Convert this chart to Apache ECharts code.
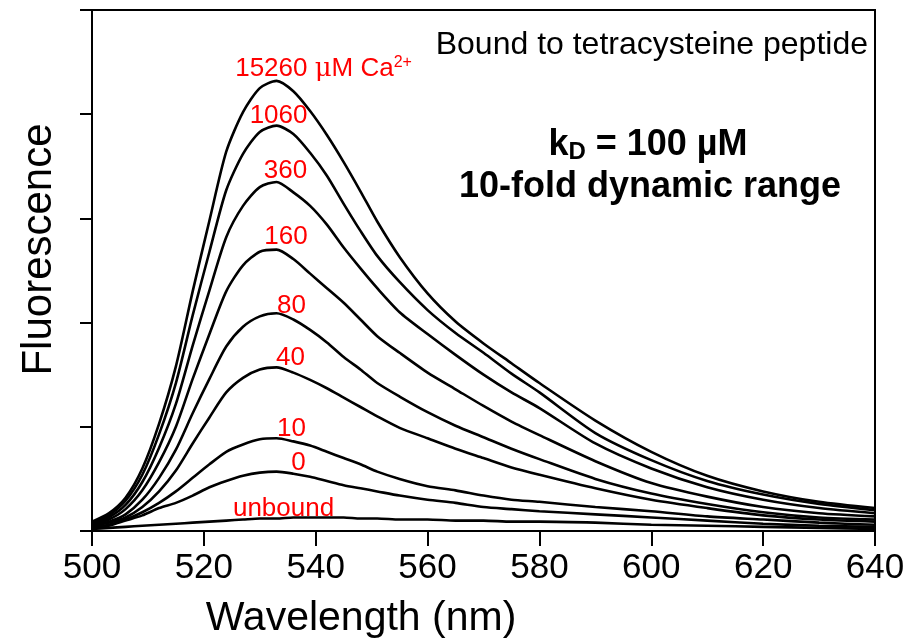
<!DOCTYPE html>
<html>
<head>
<meta charset="utf-8">
<script src="https://cdn.jsdelivr.net/npm/echarts@6/dist/echarts.min.js"></script>
<style>html,body{margin:0;padding:0;background:#fff;}#chart{width:923px;height:644px;}</style>
</head>
<body>
<div id="chart"></div>
<script>
// ---- data ----
const wavelengths = [500, 503, 506, 509, 512, 515, 518, 521, 524, 527, 530, 533, 536, 539, 542, 545, 548, 551, 555, 560, 565, 570, 575, 580, 590, 600, 610, 620, 630, 640];
const ca15260 = [0.09, 0.17, 0.32, 0.60, 1.03, 1.58, 2.30, 2.98, 3.64, 4.02, 4.25, 4.32, 4.22, 4.03, 3.80, 3.54, 3.26, 2.97, 2.63, 2.28, 2.01, 1.80, 1.61, 1.42, 1.06, 0.76, 0.53, 0.38, 0.28, 0.22];
const ca1060  = [0.08, 0.15, 0.29, 0.54, 0.93, 1.42, 2.07, 2.68, 3.27, 3.62, 3.83, 3.89, 3.81, 3.63, 3.41, 3.14, 2.88, 2.64, 2.39, 2.12, 1.90, 1.71, 1.51, 1.33, 0.94, 0.68, 0.48, 0.35, 0.26, 0.20];
const ca360   = [0.07, 0.13, 0.25, 0.47, 0.80, 1.22, 1.78, 2.31, 2.82, 3.12, 3.30, 3.35, 3.25, 3.12, 2.94, 2.72, 2.52, 2.33, 2.10, 1.89, 1.69, 1.50, 1.33, 1.18, 0.84, 0.60, 0.42, 0.30, 0.22, 0.17];
const ca160   = [0.06, 0.11, 0.21, 0.39, 0.66, 1.00, 1.46, 1.89, 2.30, 2.55, 2.68, 2.70, 2.61, 2.47, 2.33, 2.19, 2.03, 1.87, 1.71, 1.52, 1.36, 1.20, 1.05, 0.92, 0.67, 0.46, 0.33, 0.23, 0.17, 0.14];
const ca80    = [0.05, 0.09, 0.16, 0.30, 0.51, 0.78, 1.13, 1.46, 1.77, 1.96, 2.06, 2.09, 2.03, 1.93, 1.81, 1.67, 1.55, 1.42, 1.29, 1.14, 1.01, 0.90, 0.79, 0.69, 0.50, 0.36, 0.26, 0.18, 0.13, 0.11];
const ca40    = [0.05, 0.08, 0.13, 0.23, 0.38, 0.58, 0.84, 1.09, 1.33, 1.47, 1.55, 1.57, 1.52, 1.45, 1.37, 1.28, 1.19, 1.10, 0.99, 0.89, 0.79, 0.70, 0.61, 0.54, 0.41, 0.30, 0.22, 0.15, 0.11, 0.09];
const ca10    = [0.04, 0.06, 0.11, 0.18, 0.27, 0.38, 0.51, 0.64, 0.76, 0.83, 0.88, 0.89, 0.86, 0.82, 0.76, 0.70, 0.64, 0.57, 0.50, 0.43, 0.39, 0.34, 0.30, 0.28, 0.23, 0.19, 0.14, 0.11, 0.08, 0.06];
const ca0     = [0.03, 0.05, 0.10, 0.15, 0.22, 0.27, 0.34, 0.42, 0.48, 0.53, 0.56, 0.57, 0.55, 0.52, 0.48, 0.44, 0.41, 0.38, 0.34, 0.30, 0.27, 0.23, 0.21, 0.19, 0.16, 0.13, 0.10, 0.07, 0.05, 0.04];
const unbound = [0.02, 0.03, 0.04, 0.05, 0.06, 0.07, 0.08, 0.09, 0.10, 0.11, 0.12, 0.12, 0.13, 0.13, 0.13, 0.13, 0.12, 0.12, 0.11, 0.11, 0.10, 0.10, 0.09, 0.09, 0.08, 0.06, 0.05, 0.04, 0.03, 0.02];
const curveLabels = ['15260 {mu|\u03bc}M Ca{sup|2+}', '1060', '360', '160', '80', '40', '10', '0', 'unbound'];
const xTicks = [500, 520, 540, 560, 580, 600, 620, 640];

// ---- styling ----
const FONT = '"Liberation Sans", Arial, Helvetica, sans-serif';
const curves = [ca15260, ca1060, ca360, ca160, ca80, ca40, ca10, ca0, unbound];
const labelIndex = wavelengths.indexOf(533);
const labelOffsets = [[47, 2], [2, 3.5], [9, 2.3], [9.5, 0], [15, 6], [14, 3.5], [15, 3.6], [22, 4.3], [7, 3.3]];

const series = curves.map((vals, k) => ({
  type: 'line',
  name: curveLabels[k],
  data: wavelengths.map((w, i) => [w, vals[i]]),
  smooth: 0.25,
  symbol: 'none',
  lineStyle: { color: '#000', width: 2.6 },
  silent: true,
  z: 3,
  markPoint: {
    symbol: 'circle',
    symbolSize: 0,
    silent: true,
    data: [{
      coord: [wavelengths[labelIndex], vals[labelIndex]],
      label: {
        show: true,
        position: 'top',
        distance: 0,
        offset: labelOffsets[k],
        formatter: curveLabels[k],
        color: '#ff0000',
        fontSize: 26,
        fontFamily: FONT,
        rich: {
          mu: { color: '#ff0000', fontSize: 26, fontFamily: '"DejaVu Serif", serif' },
          sup: { color: '#ff0000', fontSize: 16, fontFamily: FONT, verticalAlign: 'top', padding: [0, 0, 12, 0] }
        }
      }
    }]
  }
}));

const chart = echarts.init(document.getElementById('chart'), null, { renderer: 'canvas' });
chart.setOption({
  animation: false,
  backgroundColor: '#fff',
  grid: { left: 92, right: 48, top: 10, bottom: 112, show: true, borderColor: '#000', borderWidth: 2, backgroundColor: 'transparent' },
  xAxis: {
    type: 'value', min: xTicks[0], max: xTicks[xTicks.length - 1], interval: xTicks[1] - xTicks[0],
    axisLine: { lineStyle: { color: '#000', width: 2 } },
    axisTick: { length: 15, lineStyle: { color: '#000', width: 2 } },
    axisLabel: { fontSize: 35, color: '#000', fontFamily: FONT, margin: 20 },
    splitLine: { show: false },
    name: 'Wavelength (nm)', nameLocation: 'middle', nameGap: 67,
    nameTextStyle: { fontSize: 41, color: '#000', fontFamily: FONT, padding: [0, 245, 0, 0] }
  },
  yAxis: {
    type: 'value', min: 0, max: 5, interval: 1,
    axisLine: { show: true, lineStyle: { color: '#000', width: 2 } },
    axisTick: { show: true, length: 12, lineStyle: { color: '#000', width: 2 } },
    axisLabel: { show: false },
    splitLine: { show: false },
    name: 'Fluorescence', nameLocation: 'middle', nameGap: 32, nameRotate: 90,
    nameTextStyle: { fontSize: 42, color: '#000', fontFamily: FONT, padding: [0, 0, 0, 42] }
  },
  graphic: [
    { type: 'text', x: 868, y: 45, silent: true,
      style: { text: 'Bound to tetracysteine peptide', fontSize: 32, fontFamily: FONT, fill: '#000', align: 'right', verticalAlign: 'middle', textAlign: 'right', textVerticalAlign: 'middle' } },
    { type: 'text', x: 648, y: 145, silent: true,
      style: { text: 'k{sub|D} = 100 \u00b5M', fontSize: 36, fontWeight: 'bold', fontFamily: FONT, fill: '#000', align: 'center', verticalAlign: 'middle', textAlign: 'center', textVerticalAlign: 'middle',
        rich: { sub: { fontSize: 24, fontWeight: 'bold', fontFamily: FONT, fill: '#000', color: '#000', verticalAlign: 'bottom', padding: [14, 0, 0, 0] } } } },
    { type: 'text', x: 650, y: 187, silent: true,
      style: { text: '10-fold dynamic range', fontSize: 36, fontWeight: 'bold', fontFamily: FONT, fill: '#000', align: 'center', verticalAlign: 'middle', textAlign: 'center', textVerticalAlign: 'middle' } }
  ],
  series: series
});
</script>
</body>
</html>
